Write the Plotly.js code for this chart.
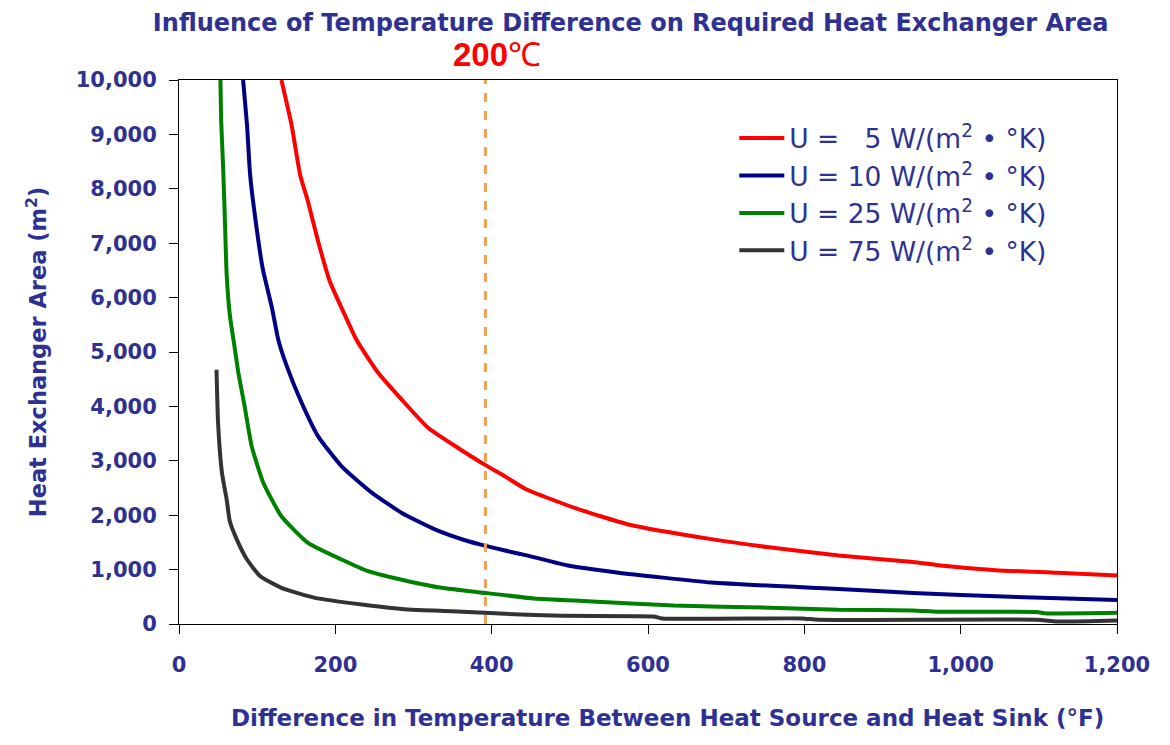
<!DOCTYPE html>
<html>
<head>
<meta charset="utf-8">
<script src="https://cdn.plot.ly/plotly-3.0.1.min.js"></script>
<style>
  body { margin: 0; background: #fff; }
  #chart { width: 1170px; height: 745px; }
</style>
</head>
<body>
<div id="chart"></div>
<script>
// values
var u5_dt   = [131, 144, 155, 165, 178, 193, 212, 227, 240, 255, 285, 319, 357, 391, 417, 444, 507, 575, 681, 755, 844, 939, 971, 1045, 1124, 1200];
var u5_area = [10000, 9174, 8255, 7765, 7030, 6296, 5684, 5225, 4930, 4613, 4123, 3603, 3236, 2929, 2714, 2478, 2130, 1830, 1560, 1410, 1260, 1140, 1080, 990, 942, 890];

var u10_dt   = [82, 87, 91, 97, 107, 119, 127, 138, 157, 178, 208, 247, 285, 328, 370, 386, 417, 438, 496, 560, 681, 818, 844, 939, 1045, 1200];
var u10_area = [10000, 9174, 8255, 7521, 6542, 5807, 5225, 4735, 4062, 3449, 2898, 2410, 2042, 1736, 1521, 1458, 1350, 1285, 1080, 948, 762, 660, 642, 570, 510, 440];

var u25_dt   = [53, 54, 56.5, 58.5, 61, 65, 71, 76, 84, 93, 108, 131, 165, 208, 242, 293, 336, 386, 454, 523, 633, 755, 844, 939, 971, 1097, 1110, 1200];
var u25_area = [10000, 9235, 8378, 7521, 6419, 5684, 5100, 4613, 4000, 3265, 2593, 1980, 1491, 1185, 970, 786, 665, 580, 470, 420, 340, 300, 260, 250, 225, 220, 195, 205];

var u75_dt   = [48, 50, 55, 61, 65, 74, 87, 104, 131, 174, 234, 293, 349, 391, 417, 491, 607, 618, 797, 818, 1097, 1124, 1200];
var u75_area = [4674, 3695, 2777, 2287, 1888, 1552, 1185, 878, 665, 481, 358, 266, 235, 206, 187, 150, 138, 102, 102, 78, 78, 45, 65];

var seriesNames = [
  'U = \u20075 W/(m<sup>2</sup> \u2022 \u00b0K)',
  'U = 10 W/(m<sup>2</sup> \u2022 \u00b0K)',
  'U = 25 W/(m<sup>2</sup> \u2022 \u00b0K)',
  'U = 75 W/(m<sup>2</sup> \u2022 \u00b0K)'
];
var seriesColors = ['#ff0000', '#000080', '#008000', '#333333'];

var markTemp = 392;      // 200 C marker, in F
var markLabel = '<b>200</b>\u2103';

var navy = '#2e3192';
var xs = [u5_dt, u10_dt, u25_dt, u75_dt];
var ys = [u5_area, u10_area, u25_area, u75_area];

var data = [];
for (var i = 0; i < xs.length; i++) {
  data.push({
    x: xs[i],
    y: ys[i],
    name: seriesNames[i],
    type: 'scatter',
    mode: 'lines',
    line: {color: seriesColors[i], width: 4, shape: 'spline', smoothing: 0.5}
  });
}

var layout = {
  width: 1170,
  height: 745,
  paper_bgcolor: '#fff',
  plot_bgcolor: '#fff',
  margin: {l: 179, r: 53, t: 80, b: 121},
  showlegend: true,
  title: {
    text: '<b>Influence of Temperature Difference on Required Heat Exchanger Area</b>',
    font: {family: 'DejaVu Sans', size: 24, color: navy},
    xref: 'container', x: 0.539, xanchor: 'center',
    yref: 'container', y: 0.97, yanchor: 'middle'
  },
  xaxis: {
    range: [0, 1200],
    tick0: 0,
    dtick: 200,
    tickformat: ',',
    ticks: 'outside',
    ticklen: 9,
    tickcolor: '#000',
    ticklabelstandoff: 13,
    showline: true,
    linecolor: '#000',
    linewidth: 1,
    mirror: true,
    showgrid: false,
    zeroline: false,
    tickfont: {family: 'DejaVu Sans', size: 21, color: navy, weight: 'bold'}
  },
  yaxis: {
    range: [0, 10000],
    tick0: 0,
    dtick: 1000,
    tickformat: ',',
    ticks: 'outside',
    ticklen: 9,
    tickcolor: '#000',
    ticklabelstandoff: 8,
    showline: true,
    linecolor: '#000',
    linewidth: 1,
    mirror: true,
    showgrid: false,
    zeroline: false,
    tickfont: {family: 'DejaVu Sans', size: 21, color: navy, weight: 'bold'},
    title: {
      text: '<b>Heat Exchanger Area (m<sup>2</sup>)</b>',
      font: {family: 'DejaVu Sans', size: 22.5, color: navy},
      standoff: 22
    }
  },
  legend: {
    x: 0.592, y: 0.937,
    xanchor: 'left', yanchor: 'top',
    itemwidth: 45,
    bgcolor: 'rgba(0,0,0,0)',
    font: {family: 'DejaVu Sans', size: 26.5, color: navy}
  },
  shapes: [{
    type: 'line',
    xref: 'x', yref: 'paper',
    x0: markTemp, x1: markTemp, y0: 0, y1: 1,
    line: {color: '#f0a050', width: 3, dash: 'dash'}
  }],
  annotations: [{
    text: markLabel,
    xref: 'x', yref: 'paper',
    x: markTemp, y: 1,
    xanchor: 'center', yanchor: 'bottom',
    xshift: 12, yshift: 5,
    showarrow: false,
    font: {family: 'Liberation Sans Narrow, Liberation Sans', size: 33, color: '#ff0000'}
  }, {
    // x axis title, placed a little right of centre as in the original
    text: '<b>Difference in Temperature Between Heat Source and Heat Sink (\u00b0F)</b>',
    xref: 'paper', yref: 'paper',
    x: 0.521, y: -0.172, yanchor: 'middle', xanchor: 'center',
    showarrow: false,
    font: {family: 'DejaVu Sans', size: 23, color: navy}
  }]
};

Plotly.newPlot('chart', data, layout, {displayModeBar: false, staticPlot: true});
</script>
</body>
</html>
